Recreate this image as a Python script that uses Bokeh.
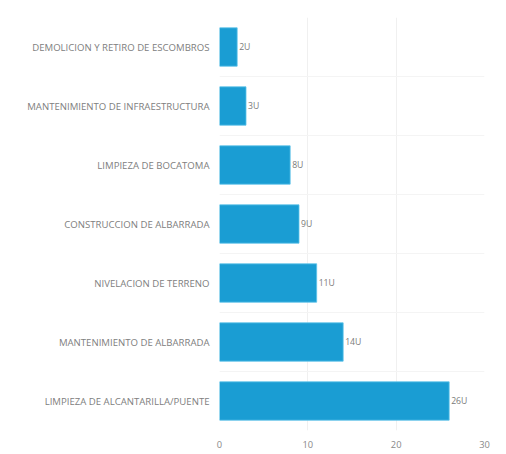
from bokeh.plotting import figure
from bokeh.models import ColumnDataSource, FactorRange, FixedTicker, Range1d
from bokeh.core.properties import value
from bokeh.embed import file_html
from bokeh.resources import INLINE

categories = [
    "DEMOLICION Y RETIRO DE ESCOMBROS",
    "MANTENIMIENTO DE INFRAESTRUCTURA",
    "LIMPIEZA DE BOCATOMA",
    "CONSTRUCCION DE ALBARRADA",
    "NIVELACION DE TERRENO",
    "MANTENIMIENTO DE ALBARRADA",
    "LIMPIEZA DE ALCANTARILLA/PUENTE",
]
values = [2, 3, 8, 9, 11, 14, 26]
value_labels = [f"{v}U" for v in values]
x_ticks = [0, 10, 20, 30]

src = ColumnDataSource(dict(cat=categories, val=values, lab=value_labels))

p = figure(
    y_range=FactorRange(factors=list(reversed(categories)), range_padding=0),
    x_range=Range1d(0, 30),
    frame_width=265, frame_height=413,
    min_border_left=219, min_border_top=17, min_border_right=14, min_border_bottom=0,
    output_backend="svg", toolbar_location=None,
    background_fill_color="white", border_fill_color="white",
)
p.outline_line_color = None

p.hbar(y="cat", right="val", left=0, height=0.65, source=src,
       fill_color="#1a9dd3", line_color="#5cc3ea", line_width=0.8)

p.text(x="val", y="cat", text="lab", source=src, x_offset=2,
       text_align="left", text_baseline="middle",
       text_font=value("Open Sans"),
       text_font_size="6.5pt", text_color="#7a7a7a")

p.xaxis.ticker = FixedTicker(ticks=x_ticks)
p.xaxis.axis_line_color = None
p.xaxis.major_tick_line_color = None
p.xaxis.minor_tick_line_color = None
p.xaxis.major_label_text_font = "Open Sans"
p.xaxis.major_label_text_font_size = "7pt"
p.xaxis.major_label_text_color = "#8a8a8a"
p.xaxis.major_label_standoff = 4

p.yaxis.axis_line_color = None
p.yaxis.major_tick_line_color = None
p.yaxis.major_label_text_font = "Open Sans"
p.yaxis.major_label_text_font_size = "7.2pt"
p.yaxis.major_label_text_color = "#808080"
p.yaxis.major_label_standoff = 4

p.xgrid.ticker = FixedTicker(ticks=x_ticks)
p.xgrid.grid_line_color = "#f0f0f0"
p.ygrid.ticker = FixedTicker(ticks=[1, 2, 3, 4, 5, 6])
p.ygrid.grid_line_color = "#f4f4f4"

open("out.html", "w").write(file_html(p, INLINE))
